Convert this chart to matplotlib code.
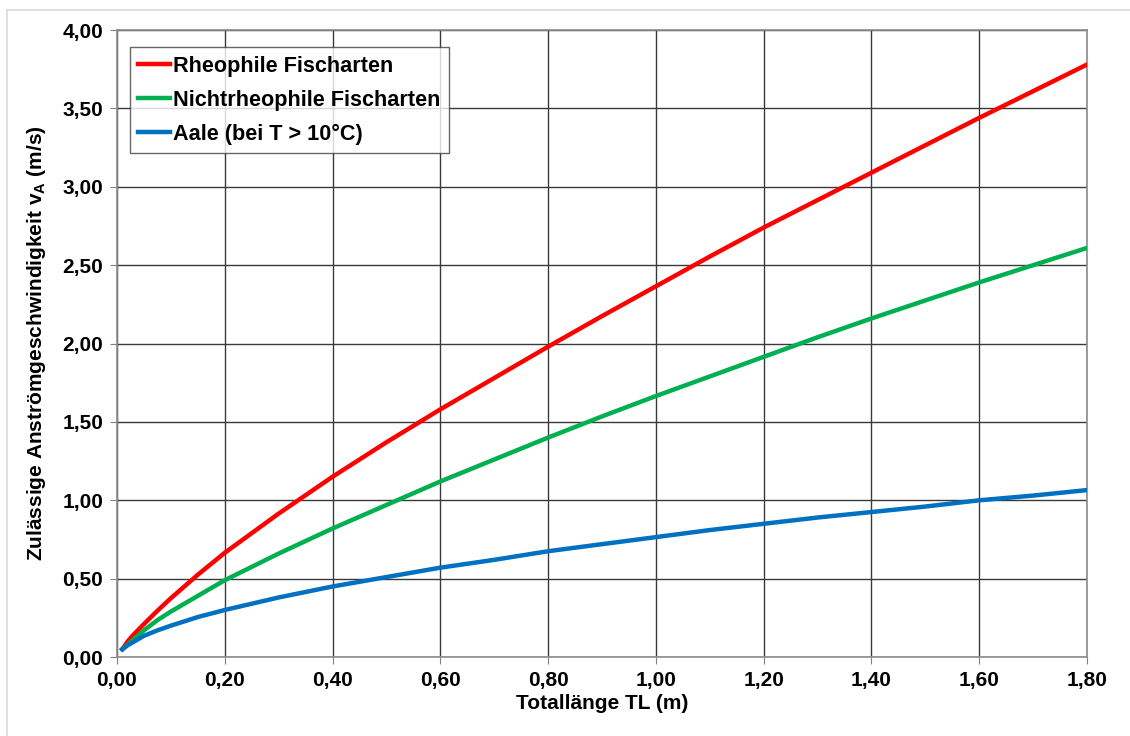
import matplotlib.pyplot as plt
from matplotlib.lines import Line2D

# Werte
laenge = [0.01, 0.02, 0.03, 0.05, 0.075, 0.10, 0.15, 0.20, 0.30, 0.40, 0.50, 0.60, 0.70,
          0.80, 0.90, 1.00, 1.10, 1.20, 1.30, 1.40, 1.50, 1.60, 1.70, 1.80]
rheophil = [0.05, 0.10, 0.14, 0.21, 0.295, 0.375, 0.525, 0.665, 0.915, 1.15, 1.37, 1.58, 1.78,
            1.98, 2.175, 2.365, 2.555, 2.74, 2.915, 3.09, 3.265, 3.44, 3.61, 3.78]
nichtrheophil = [0.05, 0.08, 0.11, 0.17, 0.235, 0.29, 0.39, 0.49, 0.66, 0.82, 0.97, 1.12, 1.26,
                 1.40, 1.535, 1.665, 1.79, 1.915, 2.04, 2.16, 2.275, 2.39, 2.50, 2.61]
aale = [0.05, 0.075, 0.095, 0.135, 0.17, 0.20, 0.255, 0.30, 0.38, 0.45, 0.51, 0.57, 0.62,
        0.675, 0.72, 0.765, 0.81, 0.85, 0.89, 0.925, 0.96, 1.00, 1.03, 1.065]

labels = ["Rheophile Fischarten", "Nichtrheophile Fischarten", "Aale (bei T > 10°C)"]
x_ticks = [0.0, 0.2, 0.4, 0.6, 0.8, 1.0, 1.2, 1.4, 1.6, 1.8]
y_ticks = [0.0, 0.5, 1.0, 1.5, 2.0, 2.5, 3.0, 3.5, 4.0]

plt.rcParams['font.family'] = ['Liberation Sans', 'DejaVu Sans']
plt.rcParams['font.weight'] = 'bold'
plt.rcParams['mathtext.fontset'] = 'custom'
plt.rcParams['mathtext.rm'] = 'Liberation Sans:bold'
plt.rcParams['mathtext.bf'] = 'Liberation Sans:bold'

fig = plt.figure(figsize=(11.3, 7.36), dpi=100)
ax = fig.add_axes([0.1035, 0.1073, 0.8585, 0.8519])

# heller Rahmen um die Grafik
fig.add_artist(Line2D([7 / 1130, 1], [1 - 10 / 736, 1 - 10 / 736], color='#d9d9d9', lw=1.2))
fig.add_artist(Line2D([7 / 1130, 7 / 1130], [0, 1 - 10 / 736], color='#d9d9d9', lw=1.2))

ax.plot(laenge, rheophil, color='#ff0000', lw=3.2, label=labels[0], zorder=3)
ax.plot(laenge, nichtrheophil, color='#00b050', lw=3.2, label=labels[1], zorder=3)
ax.plot(laenge, aale, color='#0070c0', lw=3.2, label=labels[2], zorder=3)

ax.set_xlim(0, 1.8)
ax.set_ylim(0, 4.0)
ax.set_xticks(x_ticks)
ax.set_yticks(y_ticks)
ax.set_xticklabels([f"{v:.2f}".replace('.', ',') for v in x_ticks])
ax.set_yticklabels([f"{v:.2f}".replace('.', ',') for v in y_ticks])
ax.tick_params(labelsize=15, length=5, color='#808080', pad=5)
ax.grid(True, color='#3a3a3a', lw=1)
ax.set_axisbelow(True)
for s in ax.spines.values():
    s.set_color('#8c8c8c')
    s.set_linewidth(1.2)

ax.set_xlabel("Totallänge TL (m)", fontsize=15, fontweight='bold', labelpad=3)
ax.set_ylabel(r"Zulässige Anströmgeschwindigkeit v$_\mathrm{A}$ (m/s)", fontsize=15,
              fontweight='bold', labelpad=10)

leg = ax.legend(loc='upper left', bbox_to_anchor=(0.013, 0.973), fontsize=15.6,
                frameon=True, fancybox=False, edgecolor='#404040',
                handlelength=1.45, handletextpad=0.15, borderpad=0.4, labelspacing=0.6,
                borderaxespad=0)
leg.get_frame().set_linewidth(1.0)

fig.savefig("out.png", dpi=100)
